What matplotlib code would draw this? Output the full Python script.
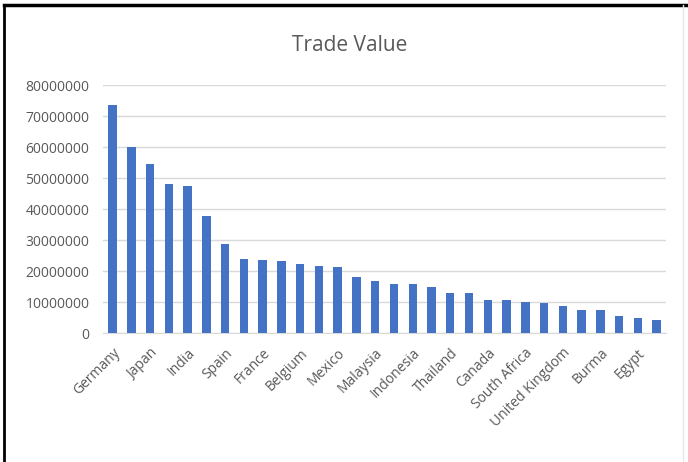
import matplotlib
matplotlib.use('Agg')
import matplotlib.pyplot as plt
from matplotlib.lines import Line2D

# Nur jede zweite Beschriftung ist im Original sichtbar
shown_labels = ['Germany', 'Japan', 'India', 'Spain', 'France', 'Belgium', 'Mexico',
                'Malaysia', 'Indonesia', 'Thailand', 'Canada', 'South Africa',
                'United Kingdom', 'Burma', 'Egypt']
trade_values = [73.6, 59.9, 54.5, 48.0, 47.5, 37.9, 28.6, 24.0, 23.6, 23.1,
                22.4, 21.7, 21.3, 18.0, 16.9, 15.9, 15.8, 15.0, 12.8, 12.8,
                10.8, 10.6, 10.0, 9.6, 8.8, 7.6, 7.3, 5.6, 4.9, 4.1]  # Mio.
y_ticks = [0, 10000000, 20000000, 30000000, 40000000, 50000000, 60000000, 70000000, 80000000]

text_color = '#595959'
plt.rcParams['font.family'] = ['Open Sans', 'DejaVu Sans']

fig = plt.figure(figsize=(6.88, 4.62), dpi=100, facecolor='white')
ax = fig.add_axes([0.15, 0.279, 0.818, 0.537])

x = list(range(len(trade_values)))
ax.bar(x, [v * 1e6 for v in trade_values], width=0.45, color='#4472C4', zorder=3)

ax.set_xlim(-0.5, len(trade_values) - 0.5)
ax.set_ylim(0, 80000000)
ax.set_yticks(y_ticks)
ax.set_yticklabels([str(t) for t in y_ticks], color=text_color, fontsize=10)
ax.set_xticks(x[::2])
ax.set_xticklabels(shown_labels, rotation=45, ha='right', rotation_mode='anchor',
                   color=text_color, fontsize=10)
ax.tick_params(axis='y', length=0, pad=10)
ax.tick_params(axis='x', length=0, pad=9)
ax.yaxis.grid(True, color='#D9D9D9', linewidth=1, zorder=0)
for side in ['top', 'right', 'left']:
    ax.spines[side].set_visible(False)
ax.spines['bottom'].set_color('#D9D9D9')

fig.text(0.508, 0.902, 'Trade Value', ha='center', va='center', fontsize=15, color=text_color)

# Rahmen wie im Screenshot
fig.add_artist(Line2D([0.006, 1.0], [0.99, 0.99], color='black', linewidth=2.5, transform=fig.transFigure))
fig.add_artist(Line2D([0.006, 0.006], [0.0, 0.99], color='black', linewidth=2, transform=fig.transFigure))
fig.add_artist(Line2D([0.993, 0.993], [0.0, 0.99], color='#E6E6E6', linewidth=1, transform=fig.transFigure))

fig.savefig('out.png', dpi=100, facecolor='white')
